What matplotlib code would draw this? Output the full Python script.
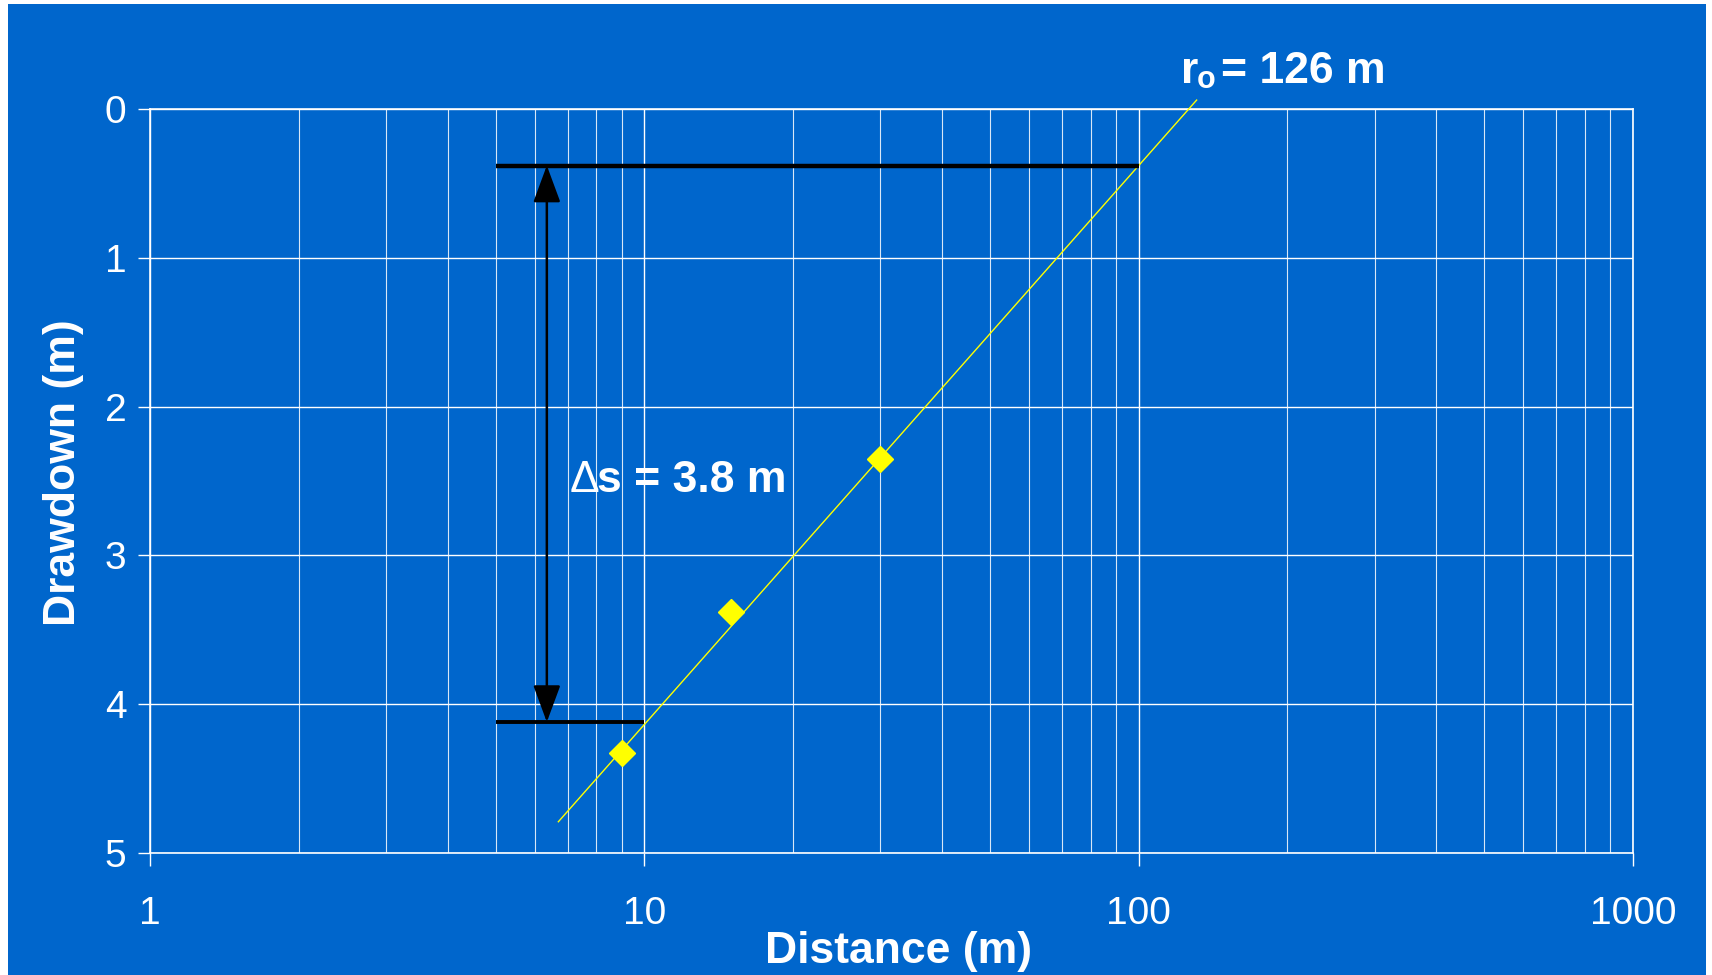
import matplotlib
matplotlib.use('Agg')

import matplotlib.pyplot as plt
from matplotlib.patches import Rectangle, FancyArrowPatch
from matplotlib.ticker import LogLocator, FixedLocator, NullFormatter
import numpy as np

# observation wells: distance (m) and drawdown (m)
distance = [9, 15, 30]
drawdown = [4.33, 3.38, 2.35]

# fitted straight line
fit_x = [6.7, 131]
fit_y = [4.79, -0.06]

# construction lines for delta s
upper_y = 0.38
lower_y = 4.12
upper_x = [5, 100]
lower_x = [5, 10]
arrow_x = 6.35

x_ticks = [1, 10, 100, 1000]
x_ticklabels = ["1", "10", "100", "1000"]
y_ticks = [0, 1, 2, 3, 4, 5]

BLUE = '#0066cc'
W, H = 1712, 975

plt.rcParams['font.family'] = ['Liberation Sans', 'DejaVu Sans']

fig = plt.figure(figsize=(W / 100, H / 100), dpi=100, facecolor='white')
# blue slide background, thin white margin left/top/right
fig.patches.append(Rectangle((8 / W, 0), (1706 - 8) / W, 1 - 4 / H,
                             transform=fig.transFigure, facecolor=BLUE,
                             edgecolor='none', zorder=-10))

ax = fig.add_axes([150 / W, 1 - 853 / H, (1633 - 150) / W, (853 - 109) / H])
ax.set_facecolor(BLUE)
ax.set_xscale('log')
ax.set_xlim(1, 1000)
ax.set_ylim(5, 0)

ax.xaxis.set_major_locator(FixedLocator(x_ticks))
ax.set_xticklabels(x_ticklabels)
ax.xaxis.set_minor_locator(LogLocator(base=10, subs=np.arange(2, 10)))
ax.xaxis.set_minor_formatter(NullFormatter())
ax.set_yticks(y_ticks)

ax.grid(True, which='major', color='white', lw=1.0)
ax.grid(True, which='minor', axis='x', color='white', lw=0.8, alpha=0.85)
ax.set_axisbelow(True)

for s in ax.spines.values():
    s.set_color('white')
    s.set_linewidth(1.2)

ax.tick_params(axis='both', which='major', colors='white', length=9, width=1,
               labelsize=28, direction='out')
ax.tick_params(axis='x', which='major', pad=22)
ax.tick_params(axis='y', which='major', pad=8)
ax.tick_params(axis='x', which='minor', length=0)

# fitted line and data
ax.plot(fit_x, fit_y, color='#ffff00', lw=1.0, zorder=3, clip_on=False)
ax.plot(distance, drawdown, linestyle='none', marker='D', ms=13,
        color='#ffff00', mec='#ffff00', zorder=4)

# delta s construction
ax.plot(upper_x, [upper_y, upper_y], color='black', lw=3.2, zorder=5,
        solid_capstyle='butt')
ax.plot(lower_x, [lower_y, lower_y], color='black', lw=2.8, zorder=5,
        solid_capstyle='butt')
arr = FancyArrowPatch((arrow_x, lower_y), (arrow_x, upper_y),
                      arrowstyle='<|-|>,head_length=23,head_width=8.5',
                      mutation_scale=1, shrinkA=0, shrinkB=0,
                      color='black', lw=1.8, zorder=6)
ax.add_patch(arr)

# labels
fig.text(570 / W, 1 - 492 / H, "\u0394", color='white', fontsize=32,
         ha='left', va='baseline')
fig.text(597 / W, 1 - 492 / H, "s = 3.8 m", color='white', fontsize=32,
         fontweight='bold', ha='left', va='baseline')

fig.text(1181 / W, 1 - 83 / H, "r", color='white', fontsize=32,
         fontweight='bold', ha='left', va='baseline')
fig.text(1197 / W, 1 - 88 / H, "o", color='white', fontsize=22,
         fontweight='bold', ha='left', va='baseline')
fig.text(1221 / W, 1 - 83 / H, "= 126 m", color='white', fontsize=32,
         fontweight='bold', ha='left', va='baseline')

fig.text(899 / W, 1 - 963 / H, "Distance (m)", color='white', fontsize=32,
         fontweight='bold', ha='center', va='baseline')
fig.text(64 / W, 1 - 473 / H, "Drawdown (m)", color='white', fontsize=32,
         fontweight='bold', ha='center', va='center', rotation=90)

fig.savefig('out.png', dpi=100, facecolor='white')
plt.close(fig)
